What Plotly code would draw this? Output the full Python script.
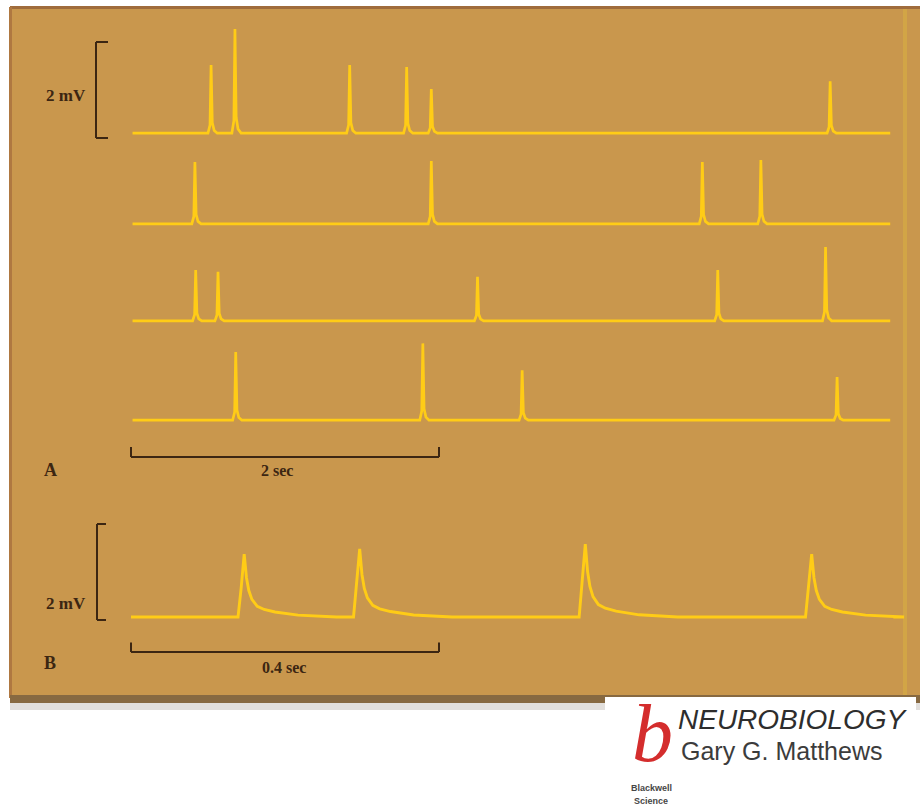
import plotly.graph_objects as go

# ---------------- data ----------------
# Panel A: four sweeps, spike times (s) and spike amplitudes (mV)
A_row1_times = [0.52, 0.675, 1.42, 1.79, 1.95, 4.54]
A_row1_amps = [1.42, 2.17, 1.42, 1.38, 0.92, 1.08]
A_row2_times = [0.415, 1.95, 3.71, 4.09]
A_row2_amps = [1.29, 1.31, 1.29, 1.33]
A_row3_times = [0.42, 0.565, 2.25, 3.81, 4.51]
A_row3_amps = [1.06, 1.02, 0.92, 1.06, 1.54]
A_row4_times = [0.68, 1.895, 2.54, 4.585]
A_row4_amps = [1.42, 1.60, 1.04, 0.90]
A_sweep_span = [0.01, 4.93]          # s

# Panel B: one fast sweep, spike times (s) and amplitudes (mV)
B_times = [0.147, 0.297, 0.590, 0.884]
B_amps = [1.31, 1.42, 1.52, 1.31]
B_sweep_span = [0.0, 0.99]           # s

# spike waveform templates (time offset in s, fraction of amplitude)
A_shape_dt = [-0.020, -0.007, 0.0, 0.008, 0.020, 0.040]
A_shape_frac = [0.0, 0.12, 1.0, 0.15, 0.04, 0.0]
B_shape_dt = [-0.008, -0.004, 0.0, 0.003, 0.006, 0.010, 0.017, 0.026, 0.040, 0.070, 0.12]
B_shape_frac = [0.0, 0.45, 1.0, 0.62, 0.42, 0.28, 0.17, 0.12, 0.08, 0.03, 0.0]

# scale bars
A_bar_mV = 2
A_bar_s = 2
B_bar_mV = 2
B_bar_s = 0.4

# ---------------- layout constants ----------------
W, H = 920, 809
A_PX_PER_S = 154.0
B_PX_PER_S = 770.0
PX_PER_MV = 48.0
X0_PX = 131.0
A_offsets = [14.08, 12.19, 10.17, 8.10]   # vertical stacking of sweeps (mV)
B_offset = 4.00

TRACE = "rgb(255,204,22)"
BG = "rgb(201,151,77)"
INK = "rgb(60,38,18)"


def build(times, amps, span, dts, fracs, offset):
    xs = [span[0]]
    ys = [offset]
    for t, a in sorted(zip(times, amps)):
        for d, f in zip(dts, fracs):
            xs.append(t + d)
            ys.append(offset + a * f)
    xs.append(span[1])
    ys.append(offset)
    return xs, ys


fig = go.Figure()
rows = [(A_row1_times, A_row1_amps), (A_row2_times, A_row2_amps),
        (A_row3_times, A_row3_amps), (A_row4_times, A_row4_amps)]
for (tt, aa), off in zip(rows, A_offsets):
    xs, ys = build(tt, aa, A_sweep_span, A_shape_dt, A_shape_frac, off)
    fig.add_trace(go.Scatter(x=xs, y=ys, mode="lines", xaxis="x", yaxis="y",
                             line=dict(color=TRACE, width=2.7), hoverinfo="skip"))

xs, ys = build(B_times, B_amps, B_sweep_span, B_shape_dt, B_shape_frac, B_offset)
fig.add_trace(go.Scatter(x=xs, y=ys, mode="lines", xaxis="x2", yaxis="y",
                         line=dict(color=TRACE, width=2.9), hoverinfo="skip"))


def px(x):
    return x / W


def py(y):
    return 1 - y / H


def ymv(y_px):
    return (H - y_px) / PX_PER_MV


shapes = []
# panel background
shapes.append(dict(type="rect", xref="paper", yref="paper", x0=px(10), x1=px(920),
                   y0=py(698), y1=py(7), fillcolor=BG, line=dict(width=0), layer="below"))
# top border and left border
shapes.append(dict(type="rect", xref="paper", yref="paper", x0=px(10), x1=px(920),
                   y0=py(9), y1=py(6), fillcolor="rgb(160,108,60)", line=dict(width=0), layer="below"))
shapes.append(dict(type="rect", xref="paper", yref="paper", x0=px(9), x1=px(12),
                   y0=py(698), y1=py(7), fillcolor="rgb(175,120,65)", line=dict(width=0), layer="below"))
# right light strip
shapes.append(dict(type="rect", xref="paper", yref="paper", x0=px(903), x1=px(907),
                   y0=py(698), y1=py(9), fillcolor="rgb(210,165,70)", line=dict(width=0), layer="below"))
# bottom shadow
shapes.append(dict(type="rect", xref="paper", yref="paper", x0=px(10), x1=px(920),
                   y0=py(703), y1=py(695), fillcolor="rgb(135,105,65)", line=dict(width=0), layer="below"))
shapes.append(dict(type="rect", xref="paper", yref="paper", x0=px(10), x1=px(920),
                   y0=py(710), y1=py(703), fillcolor="rgba(160,150,140,0.3)", line=dict(width=0), layer="below"))
# logo box
shapes.append(dict(type="rect", xref="paper", yref="paper", x0=px(605), x1=px(916),
                   y0=py(809), y1=py(697), fillcolor="white", line=dict(width=0), layer="below"))

# --- scale bars (data coordinates) ---
bar = dict(color=INK, width=2)
# A vertical 2 mV
ax_v = (96 - X0_PX) / A_PX_PER_S
ax_t = (108 - X0_PX) / A_PX_PER_S
yb = ymv(138)
shapes += [
    dict(type="line", xref="x", yref="y", x0=ax_v, x1=ax_v, y0=yb, y1=yb + A_bar_mV, line=bar),
    dict(type="line", xref="x", yref="y", x0=ax_v, x1=ax_t, y0=yb + A_bar_mV, y1=yb + A_bar_mV, line=bar),
    dict(type="line", xref="x", yref="y", x0=ax_v, x1=ax_t, y0=yb, y1=yb, line=bar),
]
# A horizontal 2 s
yh = ymv(457)
shapes += [
    dict(type="line", xref="x", yref="y", x0=0, x1=A_bar_s, y0=yh, y1=yh, line=bar),
    dict(type="line", xref="x", yref="y", x0=0, x1=0, y0=yh, y1=yh + 0.21, line=bar),
    dict(type="line", xref="x", yref="y", x0=A_bar_s, x1=A_bar_s, y0=yh, y1=yh + 0.21, line=bar),
]
# B vertical 2 mV
bx_v = (97 - X0_PX) / B_PX_PER_S
bx_t = (106 - X0_PX) / B_PX_PER_S
yb2 = ymv(620)
shapes += [
    dict(type="line", xref="x2", yref="y", x0=bx_v, x1=bx_v, y0=yb2, y1=yb2 + B_bar_mV, line=bar),
    dict(type="line", xref="x2", yref="y", x0=bx_v, x1=bx_t, y0=yb2 + B_bar_mV, y1=yb2 + B_bar_mV, line=bar),
    dict(type="line", xref="x2", yref="y", x0=bx_v, x1=bx_t, y0=yb2, y1=yb2, line=bar),
]
# B horizontal 0.4 s
yh2 = ymv(652)
shapes += [
    dict(type="line", xref="x2", yref="y", x0=0, x1=B_bar_s, y0=yh2, y1=yh2, line=bar),
    dict(type="line", xref="x2", yref="y", x0=0, x1=0, y0=yh2, y1=yh2 + 0.2, line=bar),
    dict(type="line", xref="x2", yref="y", x0=B_bar_s, x1=B_bar_s, y0=yh2, y1=yh2 + 0.2, line=bar),
]

serif = "Liberation Serif"
ann = []


def text(x, y, s, size=17, color=INK, family=serif, xanchor="center", italic=False, bold=False):
    if bold:
        s = "<b>" + s + "</b>"
    if italic:
        s = "<i>" + s + "</i>"
    ann.append(dict(x=px(x), y=py(y), xref="paper", yref="paper", text=s, showarrow=False,
                    xanchor=xanchor, yanchor="middle",
                    font=dict(family=family, size=size, color=color)))


text(66, 96, "2 mV", size=17, bold=True)
text(66, 603, "2 mV", size=17, bold=True)
text(50, 470, "A", size=18, bold=True)
text(50, 663, "B", size=18, bold=True)
text(277, 470, "%d sec" % A_bar_s, size=16, bold=True)
text(284, 667, "%s sec" % B_bar_s, size=16, bold=True)

# logo
text(652, 733, "b", size=82, color="rgb(212,45,45)", italic=True)
text(651, 788, "Blackwell", size=9, color="rgb(70,70,70)", family="Liberation Sans", bold=True)
text(651, 801, "Science", size=9, color="rgb(70,70,70)", family="Liberation Sans", bold=True)
text(676, 719, "NEUROBIOLOGY", size=28, color="rgb(45,45,45)", family="Liberation Sans",
     xanchor="left", italic=True)
text(679, 751, "Gary G. Matthews", size=25, color="rgb(60,60,60)", family="Liberation Sans",
     xanchor="left")

fig.update_layout(
    width=W, height=H,
    margin=dict(l=0, r=0, t=0, b=0),
    paper_bgcolor="white", plot_bgcolor="rgba(0,0,0,0)",
    showlegend=False,
    shapes=shapes, annotations=ann,
    xaxis=dict(domain=[0, 1], range=[-X0_PX / A_PX_PER_S, (W - X0_PX) / A_PX_PER_S],
               visible=False, fixedrange=True),
    xaxis2=dict(domain=[0, 1], range=[-X0_PX / B_PX_PER_S, (W - X0_PX) / B_PX_PER_S],
                overlaying="x", anchor="y", visible=False, fixedrange=True),
    yaxis=dict(domain=[0, 1], range=[0, H / PX_PER_MV], visible=False, fixedrange=True),
)

fig.write_html("out.html", config={"displayModeBar": False},
               post_script="document.body.style.margin='0';document.body.style.overflow='hidden';")
